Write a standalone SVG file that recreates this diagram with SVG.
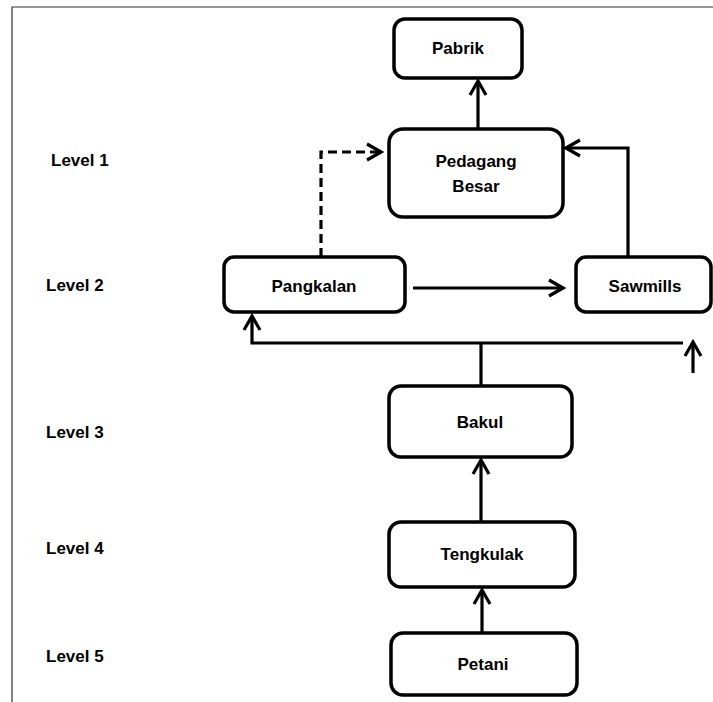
<svg xmlns="http://www.w3.org/2000/svg" width="713" height="702" viewBox="0 0 713 702">
<style>
.frame{stroke:#333;stroke-width:1.2;fill:none}
.box{fill:#fff;stroke:#000;stroke-width:3.5}
.t{font-family:"Liberation Sans",Arial,sans-serif;font-weight:bold;font-size:17px;fill:#000;text-anchor:middle;dominant-baseline:central}
.lv{font-family:"Liberation Sans",Arial,sans-serif;font-weight:bold;font-size:17px;fill:#000;dominant-baseline:central}
.c{fill:none;stroke:#000;stroke-width:3.2;stroke-linejoin:miter}
.d{stroke-dasharray:9,5}
</style>
<defs>
<marker id="ah" viewBox="0 0 20 20" refX="17" refY="10" markerWidth="20" markerHeight="20" markerUnits="userSpaceOnUse" orient="auto">
<path d="M3,2 L17,10 L3,18" fill="none" stroke="#000" stroke-width="3.2"/>
</marker>
</defs>
<path class="frame" d="M12,702 V7 H713"/>
<g id="levels">
<text class="lv" x="51" y="160">Level 1</text>
<text class="lv" x="46" y="285">Level 2</text>
<text class="lv" x="46" y="432">Level 3</text>
<text class="lv" x="46" y="548">Level 4</text>
<text class="lv" x="46" y="656">Level 5</text>
</g>
<g id="connectors">
<path class="c" d="M478,129 V81" marker-end="url(#ah)"/>
<path class="c d" d="M321,257 V152 H381" marker-end="url(#ah)"/>
<path class="c" d="M628,257 V148 H566" marker-end="url(#ah)"/>
<path class="c" d="M413,288 H563" marker-end="url(#ah)"/>
<path class="c" d="M481,386 V343"/>
<path class="c" d="M683,343 H252 V316" marker-end="url(#ah)"/>
<path class="c" d="M693,373 V342" marker-end="url(#ah)"/>
<path class="c" d="M481,522 V460" marker-end="url(#ah)"/>
<path class="c" d="M482,633 V590" marker-end="url(#ah)"/>
</g>
<g id="pabrik"><rect class="box" x="394" y="19" width="128" height="59" rx="11"/><text class="t" x="458" y="48">Pabrik</text></g>
<g id="pedagang"><rect class="box" x="389" y="129" width="174" height="88" rx="14"/><text class="t" x="476" y="161">Pedagang</text><text class="t" x="476" y="186">Besar</text></g>
<g id="pangkalan"><rect class="box" x="224" y="257" width="181" height="55" rx="10"/><text class="t" x="314" y="286">Pangkalan</text></g>
<g id="sawmills"><rect class="box" x="576" y="257" width="135" height="55" rx="10"/><text class="t" x="645" y="286">Sawmills</text></g>
<g id="bakul"><rect class="box" x="389" y="386" width="183" height="71" rx="12"/><text class="t" x="480" y="422">Bakul</text></g>
<g id="tengkulak"><rect class="box" x="389" y="522" width="186" height="65" rx="12"/><text class="t" x="482" y="554">Tengkulak</text></g>
<g id="petani"><rect class="box" x="391" y="633" width="186" height="62" rx="12"/><text class="t" x="483" y="664">Petani</text></g>
</svg>
